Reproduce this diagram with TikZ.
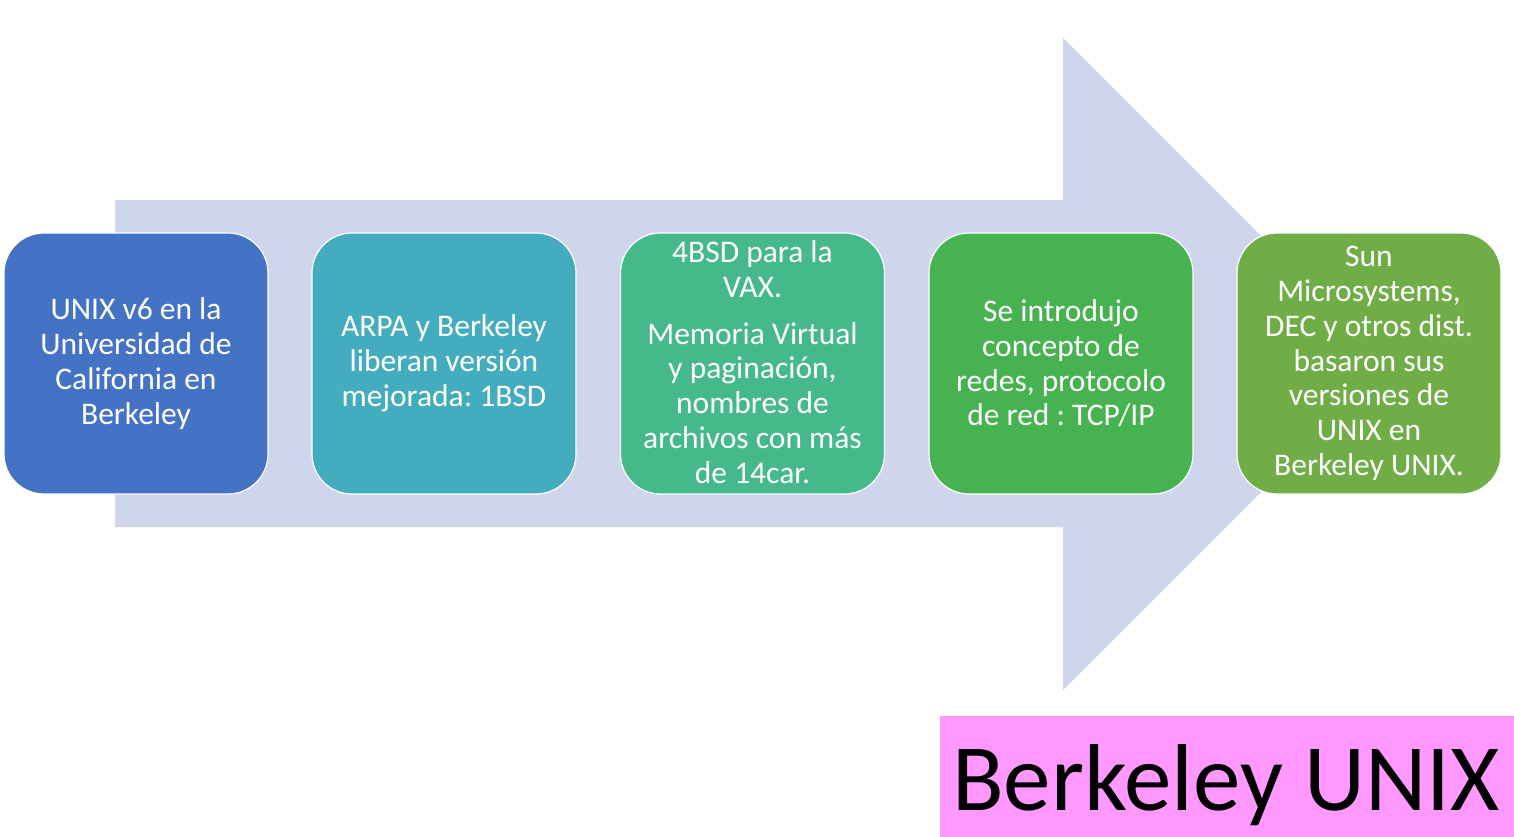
\documentclass[tikz,border=0pt]{standalone}
\usepackage{fontspec}
\setmainfont{Carlito}
\frenchspacing
\definecolor{arrowc}{HTML}{CFD5EA}
\definecolor{cA}{HTML}{4472C4}
\definecolor{cB}{HTML}{43ACBE}
\definecolor{cC}{HTML}{45B98A}
\definecolor{cD}{HTML}{47B350}
\definecolor{cE}{HTML}{70AD47}
\definecolor{pinkc}{HTML}{FF99FF}
\begin{document}
\begin{tikzpicture}[x=1pt,y=-1pt,
  stage/.style={draw=white, line width=1.2pt, rounded corners=40pt,
    minimum width=264pt, minimum height=261pt, inner sep=0pt,
    text=white, align=center,
    font=\fontsize{31.5}{34.8}\selectfont\frenchspacing}]
\useasboundingbox (0,0) rectangle (1514,837);
\fill[white] (0,0) rectangle (1514,837);
% big arrow
\fill[arrowc] (115,200) -- (1063,200) -- (1063,38) -- (1389,364) -- (1063,690) -- (1063,527) -- (115,527) -- cycle;
% stages
\node[stage, fill=cA] (s1) at (136,363.5) {UNIX v6 en la\\Universidad de\\California en\\Berkeley};
\node[stage, fill=cB] (s2) at (444,363.5) {ARPA y Berkeley\\liberan versión\\mejorada: 1BSD};
\node[stage, fill=cC] (s3) at (752.5,363.5) {};
\node[text=white, align=center, inner sep=0pt, font=\fontsize{31.5}{34.8}\selectfont\frenchspacing] (s3t) at (752.5,362) {4BSD para la\\VAX.\\[12pt]Memoria Virtual\\y paginación,\\nombres de\\archivos con más\\de 14car.};
\node[stage, fill=cD] (s4) at (1061,363.5) {Se introdujo\\concepto de\\redes, protocolo\\de red : TCP/IP};
\node[stage, fill=cE] (s5) at (1369,363.5) {Sun\\Microsystems,\\DEC y otros dist.\\basaron sus\\versiones de\\UNIX en\\Berkeley UNIX.};
% title
\fill[pinkc] (940,716) rectangle (1514,837);
\node[font=\fontsize{95}{110}\selectfont, text=black, anchor=center] (title) at (1226,785) {Berkeley UNIX};
\end{tikzpicture}
\end{document}
